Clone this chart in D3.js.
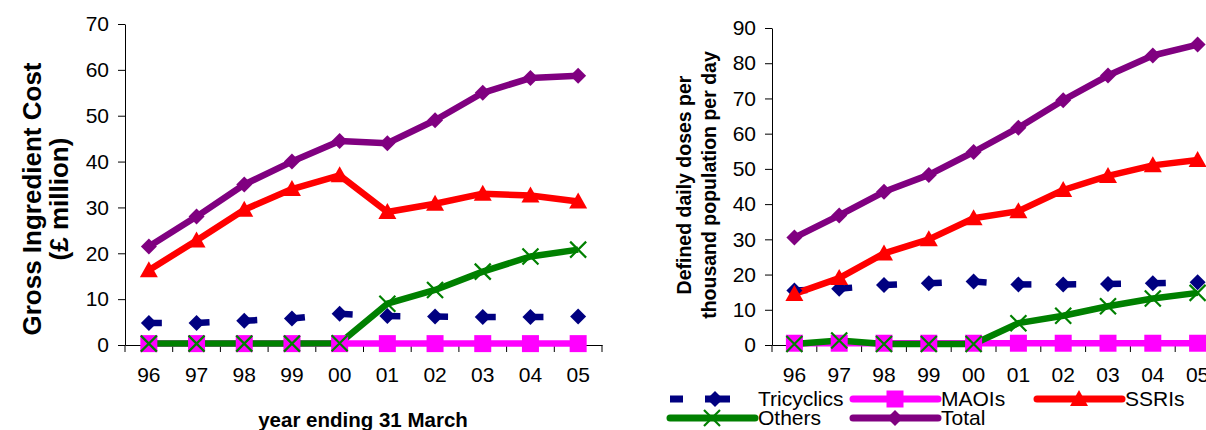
<!DOCTYPE html>
<html>
<head>
<meta charset="utf-8">
<script src="https://cdn.jsdelivr.net/npm/d3@7"></script>
<style>
  body { margin: 0; background: #fff; }
  svg { display: block; font-family: "Liberation Sans", Arial, sans-serif; }
  .tick text { fill: #000; }
</style>
</head>
<body>
<svg id="chart" width="1206" height="430"></svg>
<script>
// year ending 31 March
const years = ["96", "97", "98", "99", "00", "01", "02", "03", "04", "05"];

// Gross ingredient cost (£ million)
const costTricyclics = [4.8, 4.8, 5.3, 5.8, 6.8, 6.3, 6.2, 6.1, 6.1, 6.2];
const costMAOIs      = [0.3, 0.3, 0.3, 0.3, 0.3, 0.3, 0.3, 0.3, 0.3, 0.3];
const costSSRIs      = [16.3, 22.8, 29.5, 34.0, 37.0, 29.0, 30.8, 33.0, 32.6, 31.3];
const costOthers     = [0.3, 0.3, 0.3, 0.3, 0.4, 9.0, 12.0, 16.0, 19.3, 20.8];
const costTotal      = [21.5, 28.0, 35.0, 40.0, 44.5, 44.0, 49.0, 55.0, 58.2, 58.7];

// Defined daily doses per thousand population per day
const dddTricyclics = [15.5, 16.0, 17.0, 17.5, 18.0, 17.2, 17.2, 17.3, 17.5, 17.8];
const dddMAOIs      = [0.5, 0.5, 0.5, 0.5, 0.5, 0.5, 0.5, 0.5, 0.5, 0.5];
const dddSSRIs      = [14.5, 19.0, 26.0, 30.0, 36.0, 38.0, 44.0, 48.0, 51.0, 52.5];
const dddOthers     = [0.3, 1.3, 0.3, 0.3, 0.3, 6.2, 8.3, 11.0, 13.2, 14.8];
const dddTotal      = [30.5, 36.8, 43.5, 48.3, 54.8, 61.7, 69.5, 76.5, 82.2, 85.3];

const costTicks = [0, 10, 20, 30, 40, 50, 60, 70];
const dddTicks = [0, 10, 20, 30, 40, 50, 60, 70, 80, 90];

const seriesNames = ["Tricyclics", "MAOIs", "SSRIs", "Others", "Total"];
const seriesColors = ["#000080", "#ff00ff", "#ff0000", "#008000", "#800080"];
const seriesMarkers = ["diamond", "square", "triangle", "cross", "diamond"];

const svg = d3.select("#chart");

// marker shapes, Excel style
function markerPath(type) {
    if (type == "diamond") return "M0,-8L8,0L0,8L-8,0Z";
    if (type == "square") return "M-8.5,-8.5H8.5V8.5H-8.5Z";
    if (type == "triangle") return "M0,-9L9,7L-9,7Z";
    return "M-8,-8L8,8M-8,8L8,-8";
}

function drawMarker(g, type, color, x, y) {
    let p = g.append("path")
        .attr("d", markerPath(type))
        .attr("transform", "translate(" + x + "," + y + ")");
    if (type == "cross") {
        p.attr("fill", "none").attr("stroke", color).attr("stroke-width", 2.2);
    } else {
        p.attr("fill", color);
    }
}

function drawPanel(opt) {
    let g = svg.append("g");

    let x = d3.scaleBand().domain(years).range([opt.left, opt.right]);
    let y = d3.scaleLinear().domain([0, opt.max]).range([opt.bottom, opt.top]);

    // y axis
    g.append("g")
        .attr("transform", "translate(" + opt.left + ",0)")
        .call(d3.axisLeft(y).tickValues(opt.ticks).tickSize(7).tickPadding(9).tickSizeOuter(0))
        .call(a => a.selectAll("text").style("font-size", "21px"))
        .call(a => a.select(".domain").attr("stroke", "#000"));

    // x axis with ticks between categories
    let xa = g.append("g")
        .attr("transform", "translate(0," + opt.bottom + ")")
        .call(d3.axisBottom(x).tickSize(0).tickPadding(22).tickSizeOuter(0))
        .call(a => a.selectAll("text").style("font-size", "21px"))
        .call(a => a.select(".domain").attr("stroke", "#000"));
    for (let i = 0; i <= years.length; i++) {
        let xx = opt.left + i * x.step();
        xa.append("line").attr("x1", xx).attr("x2", xx).attr("y1", 0).attr("y2", 7).attr("stroke", "#000");
    }

    let lines = g.append("g");
    let marks = g.append("g");

    opt.series.forEach(function (vals, si) {
        let color = seriesColors[si];
        let pts = vals.map((v, i) => [x(years[i]) + x.bandwidth() / 2, y(v)]);
        if (si == 0) {
            // dashed tricyclics: each segment restarts its dash
            for (let i = 0; i < pts.length - 1; i++) {
                lines.append("line")
                    .attr("x1", pts[i][0]).attr("y1", pts[i][1])
                    .attr("x2", pts[i + 1][0]).attr("y2", pts[i + 1][1])
                    .attr("stroke", color).attr("stroke-width", 6.5)
                    .attr("stroke-dasharray", "13,200");
            }
        } else {
            lines.append("path")
                .attr("d", d3.line()(pts))
                .attr("fill", "none")
                .attr("stroke", color)
                .attr("stroke-width", 6.5)
                .attr("stroke-linejoin", "round");
        }
        pts.forEach(p => drawMarker(marks, seriesMarkers[si], color, p[0], p[1]));
    });

    // y title
    let t = g.append("text")
        .attr("transform", "translate(" + opt.titleX + "," + opt.titleY + ") rotate(-90)")
        .attr("text-anchor", "middle")
        .style("font-weight", "bold")
        .style("font-size", opt.titleSize);
    opt.title.forEach(function (line, i) {
        t.append("tspan").attr("x", 0).attr("dy", i == 0 ? 0 : opt.titleGap).text(line);
    });
}

drawPanel({
    left: 125, right: 602, top: 24, bottom: 345, max: 70, ticks: costTicks,
    series: [costTricyclics, costMAOIs, costSSRIs, costOthers, costTotal],
    title: ["Gross Ingredient Cost", "(£ million)"],
    titleX: 41, titleY: 199, titleSize: "26px", titleGap: 27
});

drawPanel({
    left: 772, right: 1220, top: 28, bottom: 345, max: 90, ticks: dddTicks,
    series: [dddTricyclics, dddMAOIs, dddSSRIs, dddOthers, dddTotal],
    title: ["Defined daily doses per", "thousand population per day"],
    titleX: 691, titleY: 185, titleSize: "19.5px", titleGap: 25
});

svg.append("text")
    .attr("x", 363).attr("y", 427)
    .attr("text-anchor", "middle")
    .style("font-weight", "bold")
    .style("font-size", "20.5px")
    .text("year ending 31 March");

// legend
const legendX = [670, 853, 1037, 670, 853];
const legendY = [399, 399, 399, 418, 418];
const legend = svg.append("g");
seriesNames.forEach(function (name, i) {
    let lx = legendX[i], ly = legendY[i];
    let l = legend.append("line")
        .attr("x1", lx).attr("x2", lx + 85)
        .attr("y1", ly).attr("y2", ly)
        .attr("stroke", seriesColors[i])
        .attr("stroke-width", 7)
        .attr("stroke-linecap", "round");
    if (i == 0) {
        l.attr("x1", lx).attr("x2", lx + 60).attr("stroke-linecap", "butt")
         .attr("stroke-dasharray", "13,22,25");
    }
    drawMarker(legend, seriesMarkers[i], seriesColors[i], lx + (i == 0 ? 45 : 42), ly);
    legend.append("text")
        .attr("x", lx + 88).attr("y", ly + 7)
        .style("font-size", "21px")
        .text(name);
});
</script>
</body>
</html>
